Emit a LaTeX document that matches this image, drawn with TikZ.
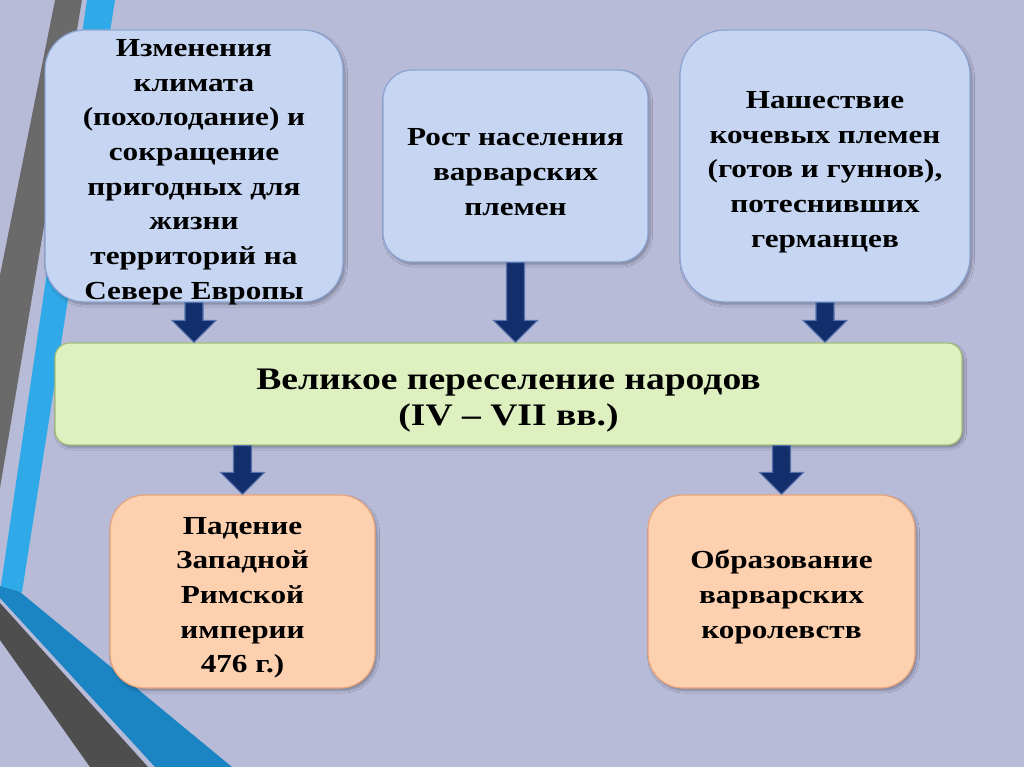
\documentclass[tikz,border=0pt]{standalone}
\usepackage{fontspec}
\setmainfont{Liberation Serif}[FakeStretch=1.2]
\usetikzlibrary{calc,shadows.blur}
\definecolor{bg}{HTML}{B8BBD8}
\definecolor{stripegray}{HTML}{6A6A6A}
\definecolor{stripeblue}{HTML}{2FA9E8}
\definecolor{bandblue}{HTML}{1B85C4}
\definecolor{banddark}{HTML}{4E4E4E}
\definecolor{bluefill}{HTML}{C6D5F1}
\definecolor{blueline}{HTML}{8BA3D2}
\definecolor{greenfill}{HTML}{DEF0C0}
\definecolor{greenline}{HTML}{A3BF78}
\definecolor{orangefill}{HTML}{FDD1B0}
\definecolor{orangeline}{HTML}{E7A47A}
\definecolor{arrowfill}{HTML}{132F6B}
\definecolor{arrowline}{HTML}{5673AE}
\newcommand\blockarr[2]{%
  \filldraw[arrowshape] ($(#1)+(-9,0)$) -- ($(#2)+(-9,-22)$) -- ($(#2)+(-22,-22)$) -- (#2)
    -- ($(#2)+(22,-22)$) -- ($(#2)+(9,-22)$) -- ($(#1)+(9,0)$) -- cycle;}
\newcommand\tstr{\rule{0pt}{22pt}}
\newcommand\gstr{\rule{0pt}{25pt}}
\begin{document}
\begin{tikzpicture}[x=0.75pt,y=-0.75pt,
  box/.style={draw, line width=0.9pt, align=center, text=black, inner sep=0pt,
    font=\bfseries\fontsize{19.5}{26}\selectfont,
    blur shadow={shadow xshift=1.5pt, shadow yshift=-2pt, shadow blur steps=6, shadow opacity=30}},
  causebox/.style={box, fill=bluefill, draw=blueline},
  mainbox/.style={box, fill=greenfill, draw=greenline, rounded corners=11pt,
    font=\bfseries\fontsize{23.5}{27}\selectfont},
  resultbox/.style={box, fill=orangefill, draw=orangeline, rounded corners=26pt},
  arrowshape/.style={fill=arrowfill, draw=arrowline, line width=0.8pt, line join=miter}
]
\useasboundingbox (0,0) rectangle (1024,767);
\fill[bg] (0,0) rectangle (1024,767);
% decorative stripes
\fill[stripegray] (55,0) -- (82,0) -- (0,488) -- (0,275) -- cycle;
\fill[stripeblue] (87,0) -- (115,0) -- (22,592) -- (0,592) -- cycle;
\fill[bandblue] (0,586) -- (20,592) -- (232,767) -- (155,767) -- (0,598) -- cycle;
\fill[banddark] (0,603) -- (148,767) -- (90,767) -- (0,640) -- cycle;
% boxes
\node[causebox, rounded corners=30pt, inner ysep=-6pt, minimum width=223.5pt, minimum height=204pt] (c1) at (194,166)
  {\tstr Изменения\\климата\\(похолодание) и\\сокращение\\пригодных для\\жизни\\территорий на\\Севере Европы};
\node[causebox, rounded corners=22pt, minimum width=198.75pt, minimum height=144pt] (c2) at (515.5,166)
  {\tstr Рост населения\\варварских\\племен};
\node[causebox, rounded corners=34pt, minimum width=217.5pt, minimum height=204pt] (c3) at (825,166)
  {\tstr Нашествие\\кочевых племен\\(готов и гуннов),\\потеснивших\\германцев};
\node[mainbox, minimum width=680.25pt, minimum height=76.5pt] (g) at (508.5,394)
  {\gstr Великое переселение народов\\(IV – VII вв.)};
\node[resultbox, minimum width=198.75pt, minimum height=144.75pt] (r1) at (242.5,591.5)
  {\tstr Падение\\Западной\\Римской\\империи\\476 г.)};
\node[resultbox, minimum width=200.25pt, minimum height=144.75pt] (r2) at (781.5,591.5)
  {\tstr Образование\\варварских\\королевств};
% arrows
\coordinate (a1s) at (c1.south); \coordinate (a1e) at (c1.south |- g.north);
\coordinate (a2s) at (c2.south); \coordinate (a2e) at (c2.south |- g.north);
\coordinate (a3s) at (c3.south); \coordinate (a3e) at (c3.south |- g.north);
\coordinate (a4s) at (r1.north |- g.south); \coordinate (a4e) at (r1.north);
\coordinate (a5s) at (r2.north |- g.south); \coordinate (a5e) at (r2.north);
\blockarr{a1s}{a1e}
\blockarr{a2s}{a2e}
\blockarr{a3s}{a3e}
\blockarr{a4s}{a4e}
\blockarr{a5s}{a5e}
\end{tikzpicture}
\end{document}
